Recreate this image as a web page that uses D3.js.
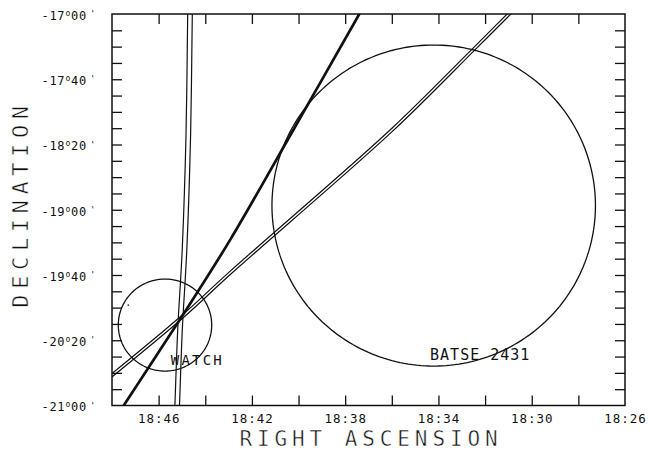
<!DOCTYPE html>
<html>
<head>
<meta charset="utf-8">
<script src="https://cdn.jsdelivr.net/npm/d3@7"></script>
<style>
  html, body { margin: 0; padding: 0; background: #fff; }
  svg { display: block; }
  text { font-family: "DejaVu Sans Mono", monospace; fill: #111; }
</style>
</head>
<body>
<svg id="chart" width="651" height="452"></svg>
<script>
// ---------------- DATA ----------------
// Right ascension expressed as minutes past 18h; declination in degrees.
const raDomain = [48, 26];
const decDomain = [-17, -21];
const raMinorTicks = [46, 44, 42, 40, 38, 36, 34, 32, 30, 28];
const raLabelValues = [46, 42, 38, 34, 30, 26];
const raLabels = ["18:46", "18:42", "18:38", "18:34", "18:30", "18:26"];
const decLabelValues = [-17, -17 - 40/60, -17 - 80/60, -19, -19 - 40/60, -20 - 20/60, -21];
const decLabelDeg = ["-17", "-17", "-18", "-19", "-19", "-20", "-21"];
const decLabelMin = ["00", "40", "20", "00", "40", "20", "00"];

// Error circles
const circleNames = ["WATCH", "BATSE 2431"];
const circleRA = [45.727, 34.204];
const circleDec = [-20.178, -18.957];
const circleRadiusArcmin = [28.2, 98.4];
const extraDotRA = [47.301];
const extraDotDec = [-19.974];

// Thick (single) annulus line
const thickLineRA = [47.768, 45.011, 42.94, 40.225, 37.394, 37.197];
const thickLineDec = [-21.098, -20.093, -19.310, -18.185, -17.0, -16.918];

// Near-vertical double annulus
const vertLineRA = [45.225, 45.204, 45.084, 44.891, 44.728, 44.655, 44.646];
const vertLineDec = [-21.098, -20.995, -20.229, -19.412, -18.237, -17.0, -16.918];

// Diagonal double annulus
const diagLineRA = [48.343, 44.998, 42.94, 35.992, 32.518, 30.631];
const diagLineDec = [-20.757, -20.096, -19.647, -18.185, -17.368, -16.918];

// ---------------- CHART ----------------
const svg = d3.select("#chart");
const L = 112, R = 625, T = 14, B = 405.5;
const x = d3.scaleLinear().domain(raDomain).range([L, R]);
const y = d3.scaleLinear().domain(decDomain).range([T, B]);

svg.append("defs").append("clipPath").attr("id", "plotclip")
  .append("rect").attr("x", L).attr("y", T).attr("width", R - L).attr("height", B - T);

const plot = svg.append("g").attr("clip-path", "url(#plotclip)");
const line = d3.line().x(d => x(d[0])).y(d => y(d[1])).curve(d3.curveCatmullRom.alpha(0.5));
const zip = (a, b) => a.map((v, i) => [v, b[i]]);

// Double lines: black outer stroke, white inner stroke
function doubleLine(pts, outer, inner) {
  plot.append("path").attr("d", line(pts)).attr("fill", "none")
    .attr("stroke", "#111").attr("stroke-width", outer);
  plot.append("path").attr("d", line(pts)).attr("fill", "none")
    .attr("stroke", "#fff").attr("stroke-width", inner);
}
doubleLine(zip(vertLineRA, vertLineDec), 5.8, 3.4);
doubleLine(zip(diagLineRA, diagLineDec), 3.8, 1.4);

// Thick line
plot.append("path").attr("d", line(zip(thickLineRA, thickLineDec)))
  .attr("fill", "none").attr("stroke", "#111").attr("stroke-width", 2.7);

// Circles
function circlePts(ra, dec, r) {
  const n = 240, cosd = Math.cos(dec * Math.PI / 180);
  return d3.range(n + 1).map(i => {
    const t = 2 * Math.PI * i / n;
    return [ra + (r / (15 * cosd)) * Math.cos(t), dec + (r / 60) * Math.sin(t)];
  });
}
const lineLin = d3.line().x(d => x(d[0])).y(d => y(d[1]));
circleNames.forEach((nm, i) => {
  plot.append("path").attr("d", lineLin(circlePts(circleRA[i], circleDec[i], circleRadiusArcmin[i])))
    .attr("fill", "none").attr("stroke", "#111").attr("stroke-width", 1.3);
});
extraDotRA.forEach((ra, i) => {
  plot.append("circle").attr("cx", x(ra)).attr("cy", y(extraDotDec[i])).attr("r", 0.9).attr("fill", "#333");
});

// Labels of circles
svg.append("text").attr("x", x(45.48)).attr("y", 365)
  .attr("font-size", 14).attr("letter-spacing", 2.2)
  .text(circleNames[0]);
svg.append("text").attr("x", x(34.36)).attr("y", 360)
  .attr("font-size", 15).attr("letter-spacing", 1.0)
  .text(circleNames[1]);

// Frame
svg.append("rect").attr("x", L).attr("y", T).attr("width", R - L).attr("height", B - T)
  .attr("fill", "none").attr("stroke", "#111").attr("stroke-width", 1.5);

// Ticks (inward) using d3 axes
const decMinor = d3.range(1, 24).map(i => -17 - i / 6);
function styleAxis(g) {
  g.select(".domain").remove();
  g.selectAll(".tick line").attr("stroke", "#111").attr("stroke-width", 1.3);
  g.selectAll(".tick text").remove();
}
svg.append("g").attr("transform", `translate(0,${B})`)
  .call(d3.axisBottom(x).tickValues(raMinorTicks).tickSize(-10).tickFormat("")).call(styleAxis);
svg.append("g").attr("transform", `translate(0,${T})`)
  .call(d3.axisTop(x).tickValues(raMinorTicks).tickSize(-10).tickFormat("")).call(styleAxis);
svg.append("g").attr("transform", `translate(${L},0)`)
  .call(d3.axisLeft(y).tickValues(decMinor).tickSize(-10).tickFormat("")).call(styleAxis);
svg.append("g").attr("transform", `translate(${R},0)`)
  .call(d3.axisRight(y).tickValues(decMinor).tickSize(-10).tickFormat("")).call(styleAxis);

// X tick labels
svg.append("g").selectAll("text").data(raLabelValues).join("text")
  .attr("x", d => x(d) + 0.6).attr("y", 422.5)
  .attr("text-anchor", "middle").attr("font-size", 12.5).attr("letter-spacing", 1.0)
  .text((d, i) => raLabels[i]);

// Y tick labels with degree / arcminute marks
const yl = svg.append("g");
decLabelValues.forEach((v, i) => {
  const t = yl.append("text").attr("x", 41.5).attr("y", y(v) + 5.8)
    .attr("font-size", 12).attr("letter-spacing", 0.7);
  t.append("tspan").text(decLabelDeg[i]);
  t.append("tspan").attr("font-size", 8).attr("dy", -4).attr("dx", 0.3).text("o");
  t.append("tspan").attr("dy", 4).text(decLabelMin[i]);
  t.append("tspan").attr("font-size", 9).attr("dy", -2.8).attr("dx", 3).text("'");
});

// Axis titles (slightly thinned with a white hairline over the glyph edges)
svg.append("text").attr("x", 371).attr("y", 446).attr("text-anchor", "middle")
  .attr("font-size", 21).attr("letter-spacing", 4.9)
  .attr("stroke", "#fff").attr("stroke-width", 0.5)
  .text("RIGHT ASCENSION");
svg.append("text").attr("transform", "translate(28,204) rotate(-90)")
  .attr("text-anchor", "middle").attr("font-size", 22).attr("letter-spacing", 5.6)
  .attr("stroke", "#fff").attr("stroke-width", 0.5)
  .text("DECLINATION");
</script>
</body>
</html>
